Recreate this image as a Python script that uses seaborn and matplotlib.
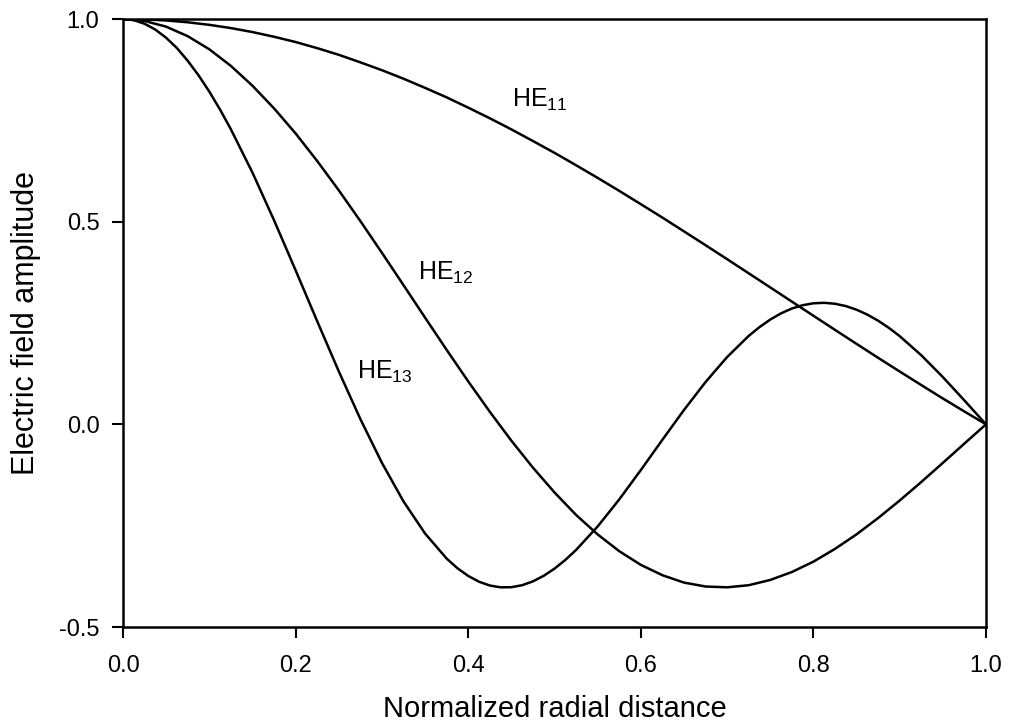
import matplotlib
matplotlib.use("Agg")
import matplotlib.pyplot as plt
import seaborn as sns
import pandas as pd

# Data
r = [0.0, 0.025, 0.05, 0.075, 0.1, 0.125, 0.15, 0.175, 0.2, 0.225, 0.25,
     0.275, 0.3, 0.325, 0.35, 0.375, 0.4, 0.425, 0.45, 0.475, 0.5,
     0.525, 0.55, 0.575, 0.6, 0.625, 0.65, 0.675, 0.7, 0.725, 0.75,
     0.775, 0.8, 0.825, 0.85, 0.875, 0.9, 0.925, 0.95, 0.975, 1.0]
he11 = [1.0, 0.9991, 0.9964, 0.9919, 0.9856, 0.9776, 0.9678, 0.9562, 0.9432, 0.9281, 0.9117,
        0.8931, 0.8737, 0.8527, 0.8301, 0.8067, 0.7813, 0.7551, 0.7277, 0.6990, 0.6698,
        0.6392, 0.6080, 0.5760, 0.5432, 0.5101, 0.4761, 0.4420, 0.4075, 0.3727, 0.3378,
        0.3028, 0.2679, 0.2331, 0.1985, 0.1641, 0.1303, 0.0969, 0.0638, 0.0317, 0.0]
he12 = [1.0, 0.9952, 0.9811, 0.9576, 0.9253, 0.8843, 0.8354, 0.7796, 0.7177, 0.6497, 0.5775,
        0.5016, 0.4233, 0.3435, 0.2633, 0.1838, 0.1060, 0.0311, -0.0403, -0.1068, -0.1680,
        -0.2235, -0.2716, -0.3129, -0.3467, -0.3722, -0.3904, -0.4001, -0.4021, -0.3969, -0.3839,
        -0.3644, -0.3388, -0.3073, -0.2714, -0.2312, -0.1879, -0.1423, -0.0951, -0.0474, 0.0]
r13 = [0.0, 0.0125, 0.025, 0.0375, 0.05, 0.0625, 0.075, 0.0875, 0.1, 0.1125, 0.125,
       0.15, 0.175, 0.2, 0.225, 0.25, 0.275, 0.3, 0.325, 0.35, 0.375,
       0.3875, 0.4, 0.4125, 0.425, 0.4375, 0.45, 0.4625, 0.475, 0.4875, 0.5, 0.5125, 0.525,
       0.55, 0.575, 0.6, 0.625, 0.65, 0.675, 0.7, 0.725,
       0.7375, 0.75, 0.7625, 0.775, 0.7875, 0.8, 0.8125, 0.825, 0.8375, 0.85, 0.8625, 0.875, 0.8875,
       0.9, 0.925, 0.95, 0.975, 1.0]
he13 = [1.0, 0.9971, 0.9883, 0.9738, 0.9537, 0.9282, 0.8969, 0.8612, 0.8209, 0.7764, 0.7279,
        0.6211, 0.5036, 0.3801, 0.2545, 0.1309, 0.0132, -0.0950, -0.1900, -0.2693, -0.3311,
        -0.3550, -0.3740, -0.3883, -0.3976, -0.4021, -0.4018, -0.3969, -0.3874, -0.3737, -0.3560, -0.3346, -0.3099,
        -0.2520, -0.1853, -0.1129, -0.0382, 0.0353, 0.1043, 0.1660, 0.2181,
        0.2398, 0.2585, 0.2738, 0.2857, 0.2939, 0.2986, 0.2998, 0.2975, 0.2918, 0.2828, 0.2707, 0.2557, 0.2379,
        0.2176, 0.1705, 0.1166, 0.0589, 0.0]
modes = ["HE11", "HE12", "HE13"]
mode_labels = [r"$\mathregular{HE_{11}}$", r"$\mathregular{HE_{12}}$", r"$\mathregular{HE_{13}}$"]
label_pos = [(0.451, 0.80), (0.342, 0.373), (0.271, 0.129)]
x_ticks = [0.0, 0.2, 0.4, 0.6, 0.8, 1.0]
y_ticks = [-0.5, 0.0, 0.5, 1.0]

sns.set_theme(style="ticks")
plt.rcParams["font.family"] = ["Liberation Sans", "DejaVu Sans"]
plt.rcParams["mathtext.fontset"] = "custom"
plt.rcParams["mathtext.rm"] = "Liberation Sans"
plt.rcParams["mathtext.it"] = "Liberation Sans:italic"
plt.rcParams["text.color"] = "black"
plt.rcParams["axes.labelcolor"] = "black"

df = pd.DataFrame({
    "r": r + r + r13,
    "amp": he11 + he12 + he13,
    "mode": ["HE11"] * len(r) + ["HE12"] * len(r) + ["HE13"] * len(r13),
})

fig = plt.figure(figsize=(10.09, 7.24), dpi=100)
ax = fig.add_axes([123 / 1009, 1 - 627 / 724, (986 - 123) / 1009, (627 - 19) / 724])
sns.lineplot(data=df, x="r", y="amp", units="mode", estimator=None, sort=False,
             color="black", linewidth=1.8, ax=ax, legend=False)

for lab, (tx, ty) in zip(mode_labels, label_pos):
    ax.text(tx, ty, lab, fontsize=18, ha="left", va="center", color="black")

ax.set_xlim(0, 1)
ax.set_ylim(-0.5, 1.0)
ax.set_xticks(x_ticks)
ax.set_yticks(y_ticks)
ax.set_xticklabels([f"{t:.1f}" for t in x_ticks])
ax.set_yticklabels([f"{t:.1f}" for t in y_ticks])
ax.tick_params(direction="out", length=8, width=1.5, labelsize=17, colors="black")
ax.tick_params(axis="y", pad=9)
ax.tick_params(axis="x", pad=12)
for s in ax.spines.values():
    s.set_visible(True)
    s.set_linewidth(1.8)
    s.set_color("black")
ax.set_xlabel("Normalized radial distance", fontsize=21, labelpad=13, color="black")
ax.set_ylabel("Electric field amplitude", fontsize=22, labelpad=13, color="black")

fig.savefig("out.png", dpi=100, facecolor="white")
